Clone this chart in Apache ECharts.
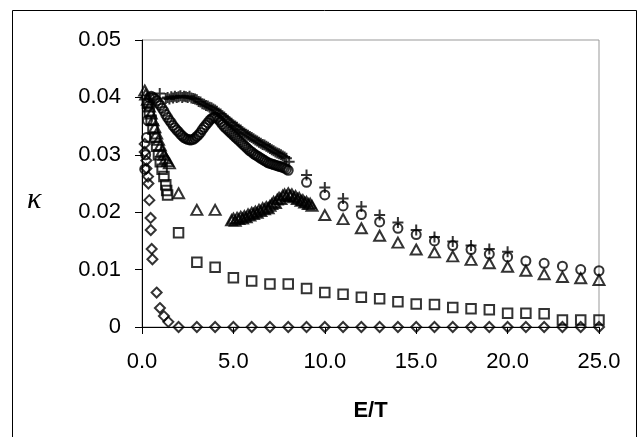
<!DOCTYPE html>
<html>
<head>
<meta charset="utf-8">
<script src="https://cdn.jsdelivr.net/npm/echarts@6/dist/echarts.min.js"></script>
<style>
html,body{margin:0;padding:0;background:#fff;}
#chart{width:641px;height:437px;}
</style>
</head>
<body>
<div id="chart"></div>
<script>
// ---- data (E/T, kappa) ----
const xTicks = [0, 5, 10, 15, 20, 25];
const yTicks = [0, 0.01, 0.02, 0.03, 0.04, 0.05];

// diamonds
const diamondX = [0.15,0.15,0.24,0.24,0.33,0.35,0.40,0.47,0.48,0.53,0.57,0.80,0.98,1.20,1.44,
  2,3,4,5,6,7,8,9,10,11,12,13,14,15,16,17,18,19,20,21,22,23,24,25];
const diamondY = [0.0319,0.0305,0.0290,0.0276,0.0262,0.0250,0.0221,0.0190,0.0169,0.0136,0.0118,0.0060,0.0033,0.0019,0.0009,
  0,0,0,0,0,0,0,0,0,0,0,0,0,0,0,0,0,0,0,0,0,0,0,0];

// squares
const squareX = [0.30,0.40,0.50,0.60,0.70,0.80,0.90,1.00,1.10,1.20,1.30,1.35,1.40,
  2,3,4,5,6,7,8,9,10,11,12,13,14,15,16,17,18,19,20,21,22,23,24,25];
const squareY = [0.0390,0.0375,0.0360,0.0345,0.0330,0.0315,0.0300,0.0288,0.0275,0.0262,0.0248,0.0238,0.0230,
  0.0164,0.0113,0.0104,0.0086,0.0080,0.0075,0.0075,0.0067,0.0060,0.0057,0.0052,0.0049,0.0044,0.0040,0.0039,0.0034,0.0032,0.0030,0.0024,0.0024,0.0023,0.0012,0.0012,0.0012];

// triangles
const triX = [0.15,0.20,0.30,0.40,0.50,0.60,0.70,0.80,0.90,1.00,1.10,1.20,1.30,1.40,1.50,
  2,3,4,
  4.9,5.0,5.1,5.2,5.3,5.4,5.5,5.6,5.7,5.8,5.9,6.0,6.1,6.2,6.3,6.4,6.5,6.6,6.7,6.8,6.9,7.0,
  7.1,7.2,7.3,7.4,7.5,7.6,7.7,7.8,7.9,8.0,8.1,8.2,8.3,8.4,8.5,8.6,8.7,8.8,8.9,9.0,9.1,9.2,9.3,
  10,11,12,13,14,15,16,17,18,19,20,21,22,23,24,25];
const triY = [0.0412,0.0405,0.0396,0.0384,0.0372,0.0360,0.0348,0.0337,0.0326,0.0316,0.0307,0.0300,0.0294,0.0289,0.0285,
  0.0233,0.0204,0.0204,
  0.0186,0.0189,0.0185,0.0190,0.0188,0.0192,0.0189,0.0193,0.0191,0.0196,0.0194,0.0199,0.0197,0.0201,0.0199,0.0204,0.0202,0.0207,0.0205,0.0209,0.0207,0.0211,
  0.0214,0.0218,0.0216,0.0222,0.0225,0.0223,0.0229,0.0231,0.0228,0.0233,0.0229,0.0231,0.0226,0.0228,0.0223,0.0225,0.0220,0.0221,0.0217,0.0218,0.0214,0.0215,0.0211,
  0.0195,0.0188,0.0172,0.0159,0.0147,0.0135,0.0130,0.0123,0.0117,0.0111,0.0105,0.0098,0.0092,0.0087,0.0085,0.0082];

// circles
const circleX = [0.15,0.20,0.25,0.30,0.35,0.40,0.50,0.60,0.70,0.80,0.90,1.00,1.10,1.20,1.30,1.40,1.50,1.60,1.70,1.80,1.90,
  2.0,2.1,2.2,2.3,2.4,2.5,2.6,2.7,2.8,2.9,3.0,3.1,3.2,3.3,3.4,3.5,3.6,3.7,3.8,3.9,
  4.0,4.1,4.2,4.3,4.4,4.5,4.6,4.7,4.8,4.9,5.0,5.1,5.2,5.3,5.4,5.5,5.6,5.7,5.8,5.9,
  6.0,6.1,6.2,6.3,6.4,6.5,6.6,6.7,6.8,6.9,7.0,7.1,7.2,7.3,7.4,7.5,7.6,7.7,7.8,7.9,8.0,
  9,10,11,12,13,14,15,16,17,18,19,20,21,22,23,24,25];
const circleY = [0.0275,0.0300,0.0330,0.0360,0.0385,0.0400,0.0402,0.0400,0.0398,0.0394,0.0390,0.0386,0.0381,0.0376,0.0370,0.0365,0.0360,0.0356,0.0351,0.0347,0.0343,
  0.0340,0.0336,0.0333,0.0330,0.0328,0.0327,0.0326,0.0326,0.0327,0.0329,0.0332,0.0335,0.0339,0.0344,0.0348,0.0352,0.0356,0.0360,0.0363,0.0365,
  0.0366,0.0364,0.0361,0.0357,0.0353,0.0349,0.0346,0.0343,0.0340,0.0337,0.0334,0.0331,0.0328,0.0325,0.0322,0.0319,0.0316,0.0313,0.0310,0.0307,
  0.0305,0.0302,0.0300,0.0298,0.0296,0.0294,0.0292,0.0290,0.0288,0.0286,0.0285,0.0284,0.0283,0.0282,0.0281,0.0280,0.0279,0.0278,0.0277,0.0275,0.0273,
  0.0252,0.0230,0.0211,0.0196,0.0183,0.0172,0.0161,0.0150,0.0142,0.0135,0.0127,0.0122,0.0115,0.0111,0.0106,0.0100,0.0098];

// plus signs
const plusX = [0.97,1.3,1.4,1.5,1.6,1.7,1.8,1.9,2.0,2.1,2.2,2.3,2.4,2.5,2.6,2.7,2.8,2.9,
  3.0,3.1,3.2,3.3,3.4,3.5,3.6,3.7,3.8,3.9,4.0,4.1,4.2,4.3,4.4,4.5,4.6,4.7,4.8,4.9,
  5.0,5.1,5.2,5.3,5.4,5.5,5.6,5.7,5.8,5.9,6.0,6.1,6.2,6.3,6.4,6.5,6.6,6.7,6.8,6.9,
  7.0,7.1,7.2,7.3,7.4,7.5,7.6,7.7,7.8,7.9,8.05,
  9,10,11,12,13,14,15,16,17,18,19,20];
const plusY = [0.0407,0.0398,0.0400,0.0397,0.0401,0.0399,0.0402,0.0400,0.0401,0.0403,0.0400,0.0402,0.0401,0.0400,0.0402,0.0399,0.0398,0.0397,
  0.0396,0.0393,0.0392,0.0389,0.0388,0.0386,0.0385,0.0383,0.0382,0.0380,0.0378,0.0376,0.0373,0.0371,0.0368,0.0366,0.0363,0.0360,0.0357,0.0355,
  0.0352,0.0350,0.0348,0.0345,0.0343,0.0340,0.0338,0.0336,0.0334,0.0332,0.0330,0.0328,0.0326,0.0324,0.0322,0.0320,0.0318,0.0317,0.0315,0.0313,
  0.0311,0.0309,0.0307,0.0305,0.0303,0.0302,0.0300,0.0298,0.0296,0.0294,0.0288,
  0.0265,0.0243,0.0224,0.0210,0.0195,0.0182,0.0169,0.0157,0.0149,0.0142,0.0136,0.0131];

function pairs(xs, ys){ return xs.map((x,i)=>[x, ys[i]]); }

const chart = echarts.init(document.getElementById('chart'), null, {renderer:'canvas'});
const FONT = '"Liberation Sans", Arial, sans-serif';
const outline = {color:'rgba(0,0,0,0)', borderColor:'#000', borderWidth:2};
const plusPath = 'path://M4.5,0H6.5V4.5H11V6.5H6.5V11H4.5V6.5H0V4.5H4.5Z';

chart.setOption({
  animation:false,
  backgroundColor:'#fff',
  grid:{left:142, right:42, top:40, bottom:110, show:true, borderColor:'#999', borderWidth:1, backgroundColor:'#fff'},
  xAxis:{
    type:'value', min:xTicks[0], max:xTicks[xTicks.length-1], interval:5,
    axisLine:{show:true, onZero:false, lineStyle:{color:'#000', width:1}},
    axisTick:{show:true, inside:false, length:7, lineStyle:{color:'#000'}},
    axisLabel:{fontFamily:FONT, fontSize:22, color:'#000', margin:24, formatter:v=>v.toFixed(1)},
    splitLine:{show:false},
    name:'E/T', nameLocation:'middle', nameGap:73,
    nameTextStyle:{fontFamily:FONT, fontSize:22, fontWeight:'bold', color:'#000'}
  },
  yAxis:{
    type:'value', min:yTicks[0], max:yTicks[yTicks.length-1], interval:0.01,
    axisLine:{show:true, onZero:false, lineStyle:{color:'#000', width:1}},
    axisTick:{show:true, inside:false, length:7, lineStyle:{color:'#000'}},
    axisLabel:{fontFamily:FONT, fontSize:22, color:'#000', margin:21, formatter:v=>v===0?'0':v.toFixed(2)},
    splitLine:{show:false}
  },
  graphic:[
    {type:'rect', shape:{x:12.5, y:10.5, width:624, height:440}, style:{fill:'none', stroke:'#000', lineWidth:1}, silent:true, z:-10},
    {type:'text', left:27, top:185, style:{text:'κ', font:'italic 30px "Liberation Serif", "Times New Roman", serif', fill:'#000'}}
  ],
  series:[
    {type:'scatter', name:'diamond', symbol:'diamond', symbolSize:10, itemStyle:outline, data:pairs(diamondX, diamondY)},
    {type:'scatter', name:'square', symbol:'rect', symbolSize:9.5, itemStyle:outline, data:pairs(squareX, squareY)},
    {type:'scatter', name:'triangle', symbol:'triangle', symbolSize:[11,10], itemStyle:outline, data:pairs(triX, triY)},
    {type:'scatter', name:'circle', symbol:'circle', symbolSize:9, itemStyle:outline, data:pairs(circleX, circleY)},
    {type:'scatter', name:'plus', symbol:plusPath, symbolSize:11, itemStyle:{color:'#000', borderWidth:0}, data:pairs(plusX, plusY)}
  ]
});
</script>
</body>
</html>
